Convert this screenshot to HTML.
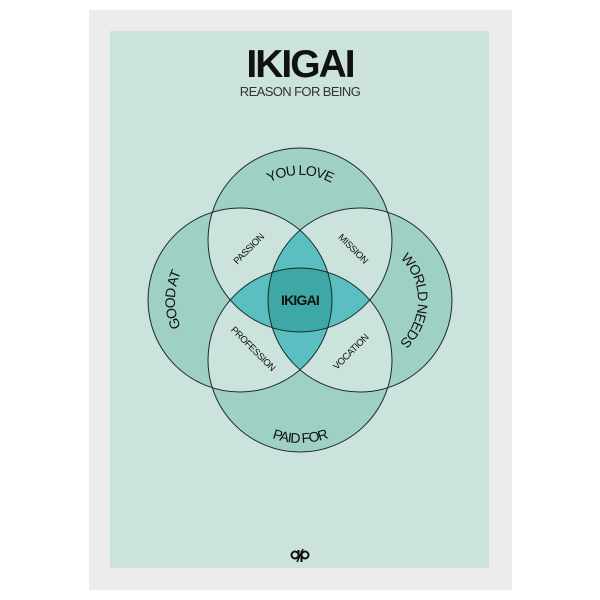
<!DOCTYPE html>
<html><head><meta charset="utf-8"><style>
html,body{margin:0;padding:0;background:#fff;}
svg{display:block;}
</style></head><body>
<svg width="600" height="600" viewBox="0 0 600 600" xmlns="http://www.w3.org/2000/svg" font-family="Liberation Sans, sans-serif">
<defs>
<clipPath id="cT"><circle cx="300" cy="240" r="92"/></clipPath>
<clipPath id="cB"><circle cx="300" cy="360" r="92"/></clipPath>
<clipPath id="cL"><circle cx="240" cy="300" r="92"/></clipPath>
<clipPath id="cR"><circle cx="360" cy="300" r="92"/></clipPath>
<path id="pTop" d="M235,240 A65,65 0 0 1 365,240"/>
<path id="pBot" d="M217,360 A83,83 0 0 0 383,360"/>
<path id="pLeft" d="M240,365 A65,65 0 0 1 240,235"/>
<path id="pRight" d="M360,242 A58,58 0 0 1 360,358"/>
</defs>
<rect x="0" y="0" width="600" height="600" fill="#fff"/>
<rect x="89" y="10" width="423" height="580" fill="#ececec"/>
<rect x="110" y="31" width="379" height="537" fill="#cce3dd"/>
<text x="300" y="77" text-anchor="middle" font-size="39" font-weight="bold" letter-spacing="-2" fill="#111">IKIGAI</text>
<text x="300" y="96" text-anchor="middle" font-size="13" letter-spacing="-0.6" fill="#333">REASON FOR BEING</text>
<g fill="#9fd0c6">
<circle cx="300" cy="240" r="92"/><circle cx="300" cy="360" r="92"/>
<circle cx="240" cy="300" r="92"/><circle cx="360" cy="300" r="92"/>
</g>
<g fill="#cce3dd">
<g clip-path="url(#cT)"><circle cx="240" cy="300" r="92"/><circle cx="360" cy="300" r="92"/></g>
<g clip-path="url(#cB)"><circle cx="240" cy="300" r="92"/><circle cx="360" cy="300" r="92"/></g>
</g>
<g fill="#5bbfc2">
<g clip-path="url(#cT)"><circle cx="300" cy="360" r="92"/></g>
<g clip-path="url(#cL)"><circle cx="360" cy="300" r="92"/></g>
</g>
<g clip-path="url(#cT)"><g clip-path="url(#cB)"><g clip-path="url(#cL)"><circle cx="360" cy="300" r="92" fill="#3ea8a6"/></g></g></g>
<g fill="none" stroke="#1a2a28" stroke-width="1">
<circle cx="300" cy="240" r="92"/><circle cx="300" cy="360" r="92"/>
<circle cx="240" cy="300" r="92"/><circle cx="360" cy="300" r="92"/>
</g>
<g font-size="14" fill="#111" letter-spacing="-1">
<text><textPath href="#pTop" startOffset="50%" text-anchor="middle">YOU LOVE</textPath></text>
<text><textPath href="#pBot" startOffset="50%" text-anchor="middle">PAID FOR</textPath></text>
<text><textPath href="#pLeft" startOffset="50%" text-anchor="middle">GOOD AT</textPath></text>
<text><textPath href="#pRight" startOffset="50%" text-anchor="middle">WORLD NEEDS</textPath></text>
</g>
<g font-size="9.5" fill="#111" text-anchor="middle" letter-spacing="-0.4">
<text transform="translate(251,251) rotate(-45)">PASSION</text>
<text transform="translate(351,251) rotate(45)">MISSION</text>
<text transform="translate(251,351) rotate(45)">PROFESSION</text>
<text transform="translate(353,354) rotate(-45)">VOCATION</text>
</g>
<text x="300" y="305" text-anchor="middle" font-size="14" font-weight="bold" letter-spacing="-0.8" fill="#111">IKIGAI</text>
<g stroke="#111" stroke-width="2" fill="none">
<circle cx="295" cy="555" r="3.5"/><circle cx="305" cy="555" r="3.5"/>
<line x1="298.5" y1="550" x2="298.5" y2="559"/><line x1="301.5" y1="551" x2="301.5" y2="562"/>
<line x1="303" y1="549" x2="297" y2="562" stroke-width="1.5"/>
</g>
</svg>
</body></html>
